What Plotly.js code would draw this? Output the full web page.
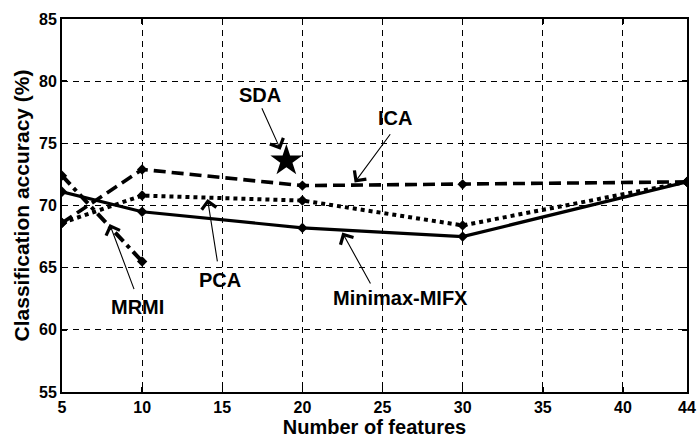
<!DOCTYPE html>
<html>
<head>
<meta charset="utf-8">
<script src="https://cdn.plot.ly/plotly-3.0.1.min.js"></script>
<style>html,body{margin:0;padding:0;background:#fff}#chart{width:699px;height:438px}</style>
</head>
<body>
<div id="chart"></div>
<script>
// Data
const features = [5, 10, 20, 30, 44];
const minimaxMIFX = [71.1, 69.5, 68.2, 67.5, 71.9];
const ica = [68.6, 72.9, 71.6, 71.7, 71.9];
const pca = [68.6, 70.8, 70.4, 68.4, 71.9];
const mrmiX = [5, 10];
const mrmi = [72.4, 65.5];
const sdaX = [19];
const sda = [73.6];
const xTicks = [5, 10, 15, 20, 25, 30, 35, 40, 44];
const yTicks = [55, 60, 65, 70, 75, 80, 85];

// Annotation labels: [text, textX, textY, tailX, tailY, tipX, tipY]
const labels = [
  ['SDA', 17.37, 78.85, 17.43, 77.94, 18.64, 74.48],
  ['ICA', 25.8, 77.05, 25.55, 75.85, 23.26, 71.84],
  ['PCA', 14.88, 64.0, 14.71, 65.38, 14.08, 70.53],
  ['MRMI', 9.71, 61.84, 9.53, 63.15, 7.97, 68.52],
  ['Minimax-MIFX', 26.13, 62.54, 24.3, 63.61, 22.49, 67.82]
];

const FONT = 'Liberation Sans, Arial, sans-serif';
const mk = {symbol: 'diamond', size: 8, color: '#000'};

const traces = [
  {x: features, y: minimaxMIFX, mode: 'lines+markers', line: {color: '#000', width: 3.2}, marker: mk, name: 'Minimax-MIFX'},
  {x: features, y: ica, mode: 'lines+markers', line: {color: '#000', width: 3.6, dash: '12px,6px'}, marker: mk, name: 'ICA'},
  {x: features, y: pca, mode: 'lines+markers', line: {color: '#000', width: 4, dash: '4px,4px'}, marker: mk, name: 'PCA'},
  {x: mrmiX, y: mrmi, mode: 'lines+markers', line: {color: '#000', width: 4, dash: '12px,5px,4px,5px'}, marker: mk, name: 'MRMI'},
  {x: sdaX, y: sda, mode: 'markers', marker: {symbol: 'star', size: 24, color: '#000'}, name: 'SDA'}
];

const annotations = [];
labels.forEach(l => {
  annotations.push({x: l[1], y: l[2], xref: 'x', yref: 'y', text: l[0], showarrow: false,
    font: {family: FONT, size: 20, color: '#000', weight: 'bold'}});
  annotations.push({x: l[5], y: l[6], ax: l[3], ay: l[4], xref: 'x', yref: 'y', axref: 'x', ayref: 'y',
    text: '', showarrow: true, arrowhead: 4, arrowsize: 2.6, arrowwidth: 1.1, arrowcolor: '#000'});
});

const axisCommon = {
  showline: true, linecolor: '#000', linewidth: 2, mirror: 'ticks',
  ticks: 'inside', ticklen: 5, tickwidth: 1.5, tickcolor: '#000',
  showgrid: true, gridcolor: '#000', gridwidth: 1, griddash: '6px,5px',
  zeroline: false,
  tickfont: {family: FONT, size: 16, color: '#000', weight: 'bold'}
};

const layout = {
  width: 699, height: 438,
  margin: {l: 62, r: 12, t: 19, b: 46},
  paper_bgcolor: '#fff', plot_bgcolor: '#fff',
  showlegend: false,
  xaxis: Object.assign({}, axisCommon, {
    range: [5, 44], tickmode: 'array', tickvals: xTicks, ticktext: xTicks.map(String),
    title: {text: 'Number of features', standoff: 3, font: {family: FONT, size: 20, color: '#000', weight: 'bold'}}
  }),
  yaxis: Object.assign({}, axisCommon, {
    range: [55, 85], tickmode: 'array', tickvals: yTicks, ticktext: yTicks.map(String),
    title: {text: 'Classification accuracy (%)', standoff: 4, font: {family: FONT, size: 21, color: '#000', weight: 'bold'}}
  }),
  annotations: annotations
};

Plotly.newPlot('chart', traces, layout, {displayModeBar: false, staticPlot: true});
</script>
</body>
</html>
